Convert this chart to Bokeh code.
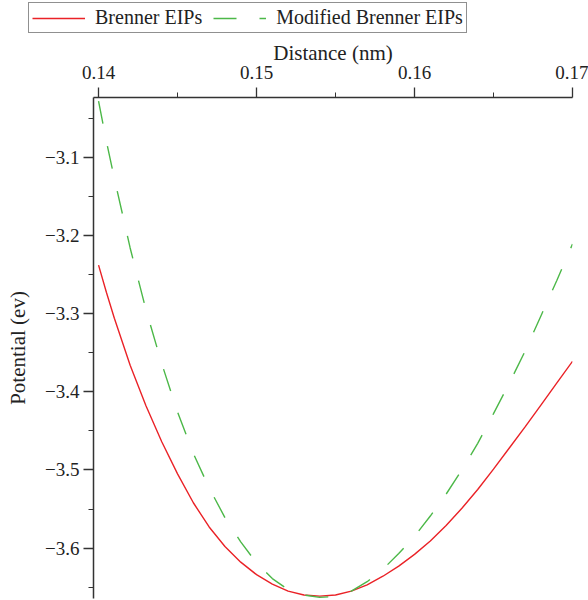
from bokeh.plotting import figure
from bokeh.layouts import column
from bokeh.models import (Range1d, FixedTicker, CustomJSTickFormatter, Legend, LegendItem)
from bokeh.embed import file_html
from bokeh.resources import INLINE

# Interatomic distance (nm)
distance = [0.140, 0.1405, 0.141, 0.142, 0.143, 0.144, 0.145, 0.146, 0.147, 0.148, 0.149,
            0.150, 0.151, 0.152, 0.153, 0.154, 0.155, 0.156, 0.157, 0.158, 0.159,
            0.160, 0.161, 0.162, 0.163, 0.164, 0.165, 0.166, 0.167, 0.168, 0.169, 0.170]

# Potential energy (eV) for the original Brenner EIPs
brenner = [-3.238, -3.273, -3.306, -3.366, -3.418, -3.464, -3.505, -3.542, -3.573, -3.598, -3.618,
           -3.634, -3.646, -3.655, -3.660, -3.6615, -3.660, -3.655, -3.647, -3.636, -3.623,
           -3.608, -3.591, -3.571, -3.549, -3.525, -3.499, -3.472, -3.445, -3.417, -3.389, -3.361]

# Potential energy (eV) for the modified Brenner EIPs
modified = [-3.028, -3.080, -3.127, -3.216, -3.295, -3.364, -3.426, -3.479, -3.523, -3.561, -3.592,
            -3.619, -3.639, -3.653, -3.660, -3.663, -3.662, -3.655, -3.643, -3.627, -3.607,
            -3.585, -3.559, -3.531, -3.500, -3.466, -3.428, -3.389, -3.348, -3.303, -3.258, -3.211]

series_names = ["Brenner EIPs", "Modified Brenner EIPs"]

x_major = [0.14, 0.15, 0.16, 0.17]
x_minor = [0.145, 0.155, 0.165]
y_major = [-3.6, -3.5, -3.4, -3.3, -3.2, -3.1]
y_minor = [-3.65, -3.55, -3.45, -3.35, -3.25, -3.15, -3.05]

FONT = "Liberation Serif"
TEXT = "#222222"
RED = "#ea2227"
GREEN = "#4cb848"
AXIS = "#333333"
DASH = "23 23"
X_RANGE = (0.13968, 0.17)
Y_RANGE = (-3.6645, -3.0235)


def no_frame_align(fig):
    # keep each figure's frame where its own borders put it
    if "frame_align" in type(fig).properties():
        fig.frame_align = False


# ---- main potential curves --------------------------------------------------
p = figure(width=588, height=564, output_backend="svg", toolbar_location=None,
           x_axis_location="above",
           x_range=Range1d(*X_RANGE), y_range=Range1d(*Y_RANGE),
           min_border_left=93, min_border_right=16, min_border_top=61, min_border_bottom=2)
no_frame_align(p)
p.outline_line_color = None
p.grid.visible = False

p.line(distance, brenner, line_color=RED, line_width=1.4)
p.line(distance, modified, line_color=GREEN, line_width=1.4, line_dash=DASH)

xa = p.xaxis[0]
xa.ticker = FixedTicker(ticks=x_major, minor_ticks=x_minor)
xa.formatter = CustomJSTickFormatter(code="return tick.toFixed(2);")
xa.axis_label = "Distance (nm)"

ya = p.yaxis[0]
ya.ticker = FixedTicker(ticks=y_major, minor_ticks=y_minor)
ya.formatter = CustomJSTickFormatter(
    code="return (tick < 0 ? '\u2212' : '') + Math.abs(tick).toFixed(1);")
ya.axis_label = "Potential (ev)"

for ax in (xa, ya):
    ax.axis_line_color = AXIS
    ax.axis_line_width = 1.5
    ax.major_tick_line_color = AXIS
    ax.minor_tick_line_color = AXIS
    ax.major_tick_line_width = 1.3
    ax.minor_tick_line_width = 1.0
    ax.major_tick_out = 10
    ax.major_tick_in = 0
    ax.minor_tick_out = 5
    ax.minor_tick_in = 0
    ax.major_label_text_font = FONT
    ax.major_label_text_font_size = "19px"
    ax.major_label_text_color = TEXT
    ax.axis_label_text_font = FONT
    ax.axis_label_text_font_size = "21px"
    ax.axis_label_text_font_style = "normal"
    ax.axis_label_text_color = TEXT

xa.major_label_standoff = 9
xa.axis_label_standoff = -2
ya.major_label_standoff = 4
ya.axis_label_standoff = 12

# ---- legend strip above the plot ------------------------------------------
# the same curves, on a range that keeps them out of view, supply the key glyphs
key = figure(width=588, height=36, output_backend="svg", toolbar_location=None,
             x_axis_location=None, y_axis_location=None,
             x_range=Range1d(0, 1), y_range=Range1d(0, 1), min_border=0)
no_frame_align(key)
key.outline_line_color = None
key.grid.visible = False
k1 = key.line(distance, brenner, line_color=RED, line_width=1.4)
k2 = key.line(distance, modified, line_color=GREEN, line_width=1.4, line_dash=DASH)

legend = Legend(items=[LegendItem(label=series_names[0], renderers=[k1]),
                       LegendItem(label=series_names[1], renderers=[k2])],
                orientation="horizontal", location=(28, 3),
                label_text_font=FONT, label_text_font_size="20px",
                label_text_color=TEXT,
                glyph_width=53, glyph_height=18, label_height=18,
                label_standoff=10, spacing=11, padding=3, margin=0,
                border_line_color=TEXT, border_line_width=1.2,
                background_fill_color="white", background_fill_alpha=1.0)
key.add_layout(legend, "center")

layout = column(key, p, spacing=0)
open("out.html", "w").write(file_html(layout, INLINE))
